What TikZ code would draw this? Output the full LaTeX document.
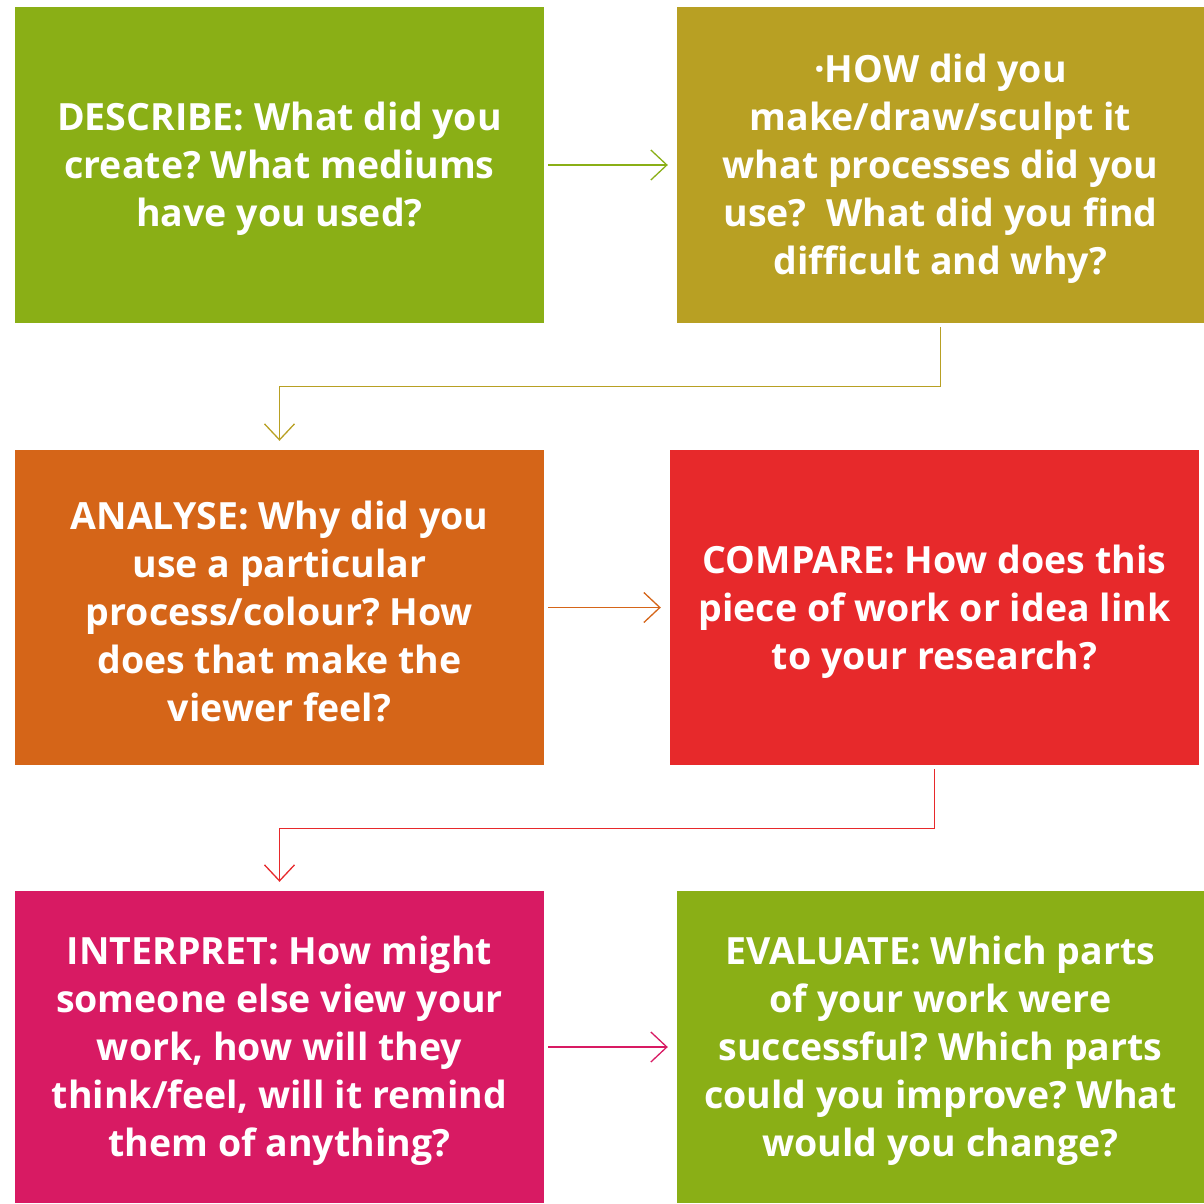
\documentclass[tikz,border=0pt]{standalone}
\usepackage{fontspec}
\setmainfont{Open Sans}
\usepackage{tikz}
\usetikzlibrary{arrows.meta,positioning}
\definecolor{leafgreen}{HTML}{8AAF16}
\definecolor{mustard}{HTML}{B8A023}
\definecolor{burntorange}{HTML}{D56518}
\definecolor{brightred}{HTML}{E7292B}
\definecolor{magentapink}{HTML}{D81A63}
\newcommand{\cardstrut}{\rule{0pt}{36pt}}
\frenchspacing

\begin{document}
\begin{tikzpicture}[x=1pt, y=-1pt,
    card/.style={rectangle, inner sep=0pt, minimum width=529pt, minimum height=316pt,
        text=white, align=center, font=\fontsize{37.5}{48}\selectfont\bfseries},
    link/.style={line width=1.3pt, -{Straight Barb[length=16pt,width=30pt,line width=1.3pt]},
        shorten >=9pt, shorten <=4pt}
]
\useasboundingbox (0,0) rectangle (1204,1203);

% Row 1
\node[card, fill=leafgreen] (describe) at (279.5,165) {\cardstrut DESCRIBE: What did you\\create? What mediums\\have you used?};
\node[card, fill=mustard, minimum width=527pt] (how) at (940.5,165) {\cardstrut\textperiodcentered HOW did you\\make/draw/sculpt it\\what processes did you\\use?\ \ What did you find\\difficult and why?};

% Row 2
\node[card, fill=burntorange, minimum height=315pt] (analyse) at (279.5,607.5) {\cardstrut ANALYSE: Why did you\\use a particular\\process/colour? How\\does that make the\\viewer feel?};
\node[card, fill=brightred, minimum height=315pt] (compare) at (934.5,607.5) {\cardstrut COMPARE: How does this\\piece of work or idea link\\to your research?};

% Row 3
\node[card, fill=magentapink, minimum height=312pt] (interpret) at (279.5,1047) {\cardstrut INTERPRET: How might\\someone else view your\\work, how will they\\think/feel, will it remind\\them of anything?};
\node[card, fill=leafgreen, minimum width=527pt, minimum height=312pt] (evaluate) at (940.5,1047) {\cardstrut EVALUATE: Which parts\\of your work were\\successful? Which parts\\could you improve? What\\would you change?};

% Connectors
\draw[link, leafgreen] (describe) -- (how);
\draw[link, mustard] (how.south) -- ++(0,63) -| (analyse.north);
\draw[link, burntorange] (analyse) -- (compare);
\draw[link, brightred] (compare.south) -- ++(0,63) -| (interpret.north);
\draw[link, magentapink] (interpret) -- (evaluate);

\end{tikzpicture}
\end{document}
